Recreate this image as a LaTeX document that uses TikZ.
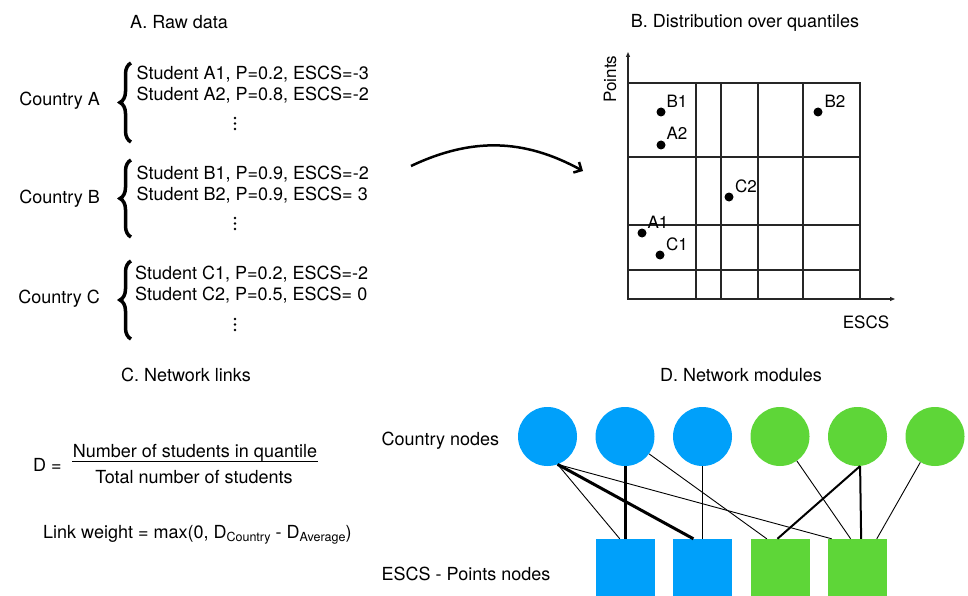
\documentclass[tikz,border=0pt]{standalone}
\usepackage{fontspec}
\setmainfont{TeX Gyre Heros}
\usetikzlibrary{arrows.meta,decorations.pathreplacing}
\definecolor{nblue}{RGB}{0,160,250}
\definecolor{ngreen}{RGB}{94,214,56}
\newcommand{\smallsub}[1]{\raisebox{-3pt}{\fontsize{12.5}{14}\selectfont #1}}
\begin{document}
\begin{tikzpicture}[x=1pt,y=-1pt,
  txt/.style={font=\fontsize{18}{21}\selectfont, inner sep=0pt},
  lbl/.style={font=\fontsize{17}{20}\selectfont, inner sep=0pt},
  dotnode/.style={circle, fill=black, inner sep=0pt, minimum size=9pt},
  vdot/.style={circle, fill=black, inner sep=0pt, minimum size=2.6pt},
  gridline/.style={line width=1.1pt, black!85},
  axisline/.style={line width=1.1pt, black!85, -{Triangle[length=5pt,width=4pt]}},
  bracestyle/.style={decorate, decoration={brace, amplitude=11pt, aspect=0.5}, line width=3.5pt},
  cnodeb/.style={circle, fill=nblue, minimum size=59pt, inner sep=0pt},
  cnodeg/.style={circle, fill=ngreen, minimum size=59pt, inner sep=0pt},
  snodeb/.style={rectangle, fill=nblue, minimum size=59pt, inner sep=0pt},
  snodeg/.style={rectangle, fill=ngreen, minimum size=59pt, inner sep=0pt},
  lnthin/.style={line width=0.9pt},
  lnmid/.style={line width=2pt},
  lnthick/.style={line width=3pt},
]
\useasboundingbox (0,0) rectangle (968,596);

% titles
\node[txt, anchor=base] (ta) at (179,29) {A. Raw data};
\node[txt, anchor=base] (tb) at (745,28) {B. Distribution over quantiles};
\node[txt, anchor=base] (tc) at (186,381) {C. Network links};
\node[txt, anchor=base] (td) at (741,381) {D. Network modules};

% A. raw data
\node[txt, anchor=base east] (ca) at (100,106) {Country A};
\node[txt, anchor=base east] (cb) at (100,203.5) {Country B};
\node[txt, anchor=base east] (cc) at (100,303.5) {Country C};
\draw[bracestyle] (131,142) -- (131,63);
\draw[bracestyle] (131,237) -- (131,160);
\draw[bracestyle] (131,339) -- (131,261);
\node[txt, anchor=base west] (sa1) at (136.5,80) {Student A1, P=0.2, ESCS=-3};
\node[txt, anchor=base west] (sa2) at (136.5,101) {Student A2, P=0.8, ESCS=-2};
\node[txt, anchor=base west] (sb1) at (136.5,179.5) {Student B1, P=0.9, ESCS=-2};
\node[txt, anchor=base west] (sb2) at (136.5,200.5) {Student B2, P=0.9, ESCS= 3};
\node[txt, anchor=base west] (sc1) at (135,279.5) {Student C1, P=0.2, ESCS=-2};
\node[txt, anchor=base west] (sc2) at (135,300.5) {Student C2, P=0.5, ESCS= 0};
\foreach \vy/\nm in {123.5/va, 223.5/vb, 324.5/vc} {
  \node[vdot] (\nm1) at (235,\vy-5.5) {};
  \node[vdot] (\nm2) at (235,\vy) {};
  \node[vdot] (\nm3) at (235,\vy+5.5) {};
}

% arrow A -> B
\coordinate (as) at (411,166);
\coordinate (ae) at (583,171);
\draw[line width=2.5pt, -{Straight Barb[length=6pt,width=12pt]}] (as) to[bend left=27] (ae);

% B. grid
\draw[gridline] (628,83) rectangle (860,299);
\foreach \gx in {696,721,758,803} \draw[gridline] (\gx,83) -- (\gx,299);
\foreach \gy in {157,225,270} \draw[gridline] (628,\gy) -- (860,\gy);
\coordinate (org) at (628,299);
\coordinate (xend) at (895,299);
\coordinate (yend) at (628,52);
\draw[axisline] (org) -- (xend);
\draw[axisline] (org) -- (yend);
\node[lbl, rotate=90] (ylab) at (610,79) {Points};
\node[lbl] (xlab) at (866,322) {ESCS};

\node[dotnode] (pb1) at (661,112) {};
\node[lbl] (lb1) at (677,101) {B1};
\node[dotnode] (pa2) at (661,145) {};
\node[lbl] (la2) at (677,133) {A2};
\node[dotnode] (pb2) at (818,112) {};
\node[lbl] (lb2) at (835,101) {B2};
\node[dotnode] (pc2) at (729,197) {};
\node[lbl] (lc2) at (746,186) {C2};
\node[dotnode] (pa1) at (642,233) {};
\node[lbl] (la1) at (658,222.5) {A1};
\node[dotnode] (pc1) at (660,255) {};
\node[lbl] (lc1) at (677,244) {C1};

% C. network links
\node[txt, anchor=base west] (deq) at (33,471) {D =};
\node[txt, anchor=base] (num) at (195,457) {Number of students in quantile};
\node[txt, anchor=base] (den) at (194,483) {Total number of students};
\coordinate (fl) at (72,461);
\coordinate (fr) at (318,461);
\draw[line width=1pt] (fl) -- (fr);
\node[txt, anchor=base west] (lw) at (43,538) {Link weight = max(0, D\smallsub{Country} - D\smallsub{Average})};

% D. network modules
\node[txt, anchor=base west] (cnl) at (381.5,445) {Country nodes};
\node[txt, anchor=base west] (snl) at (381.5,580) {ESCS - Points nodes};

\node[cnodeb] (c1) at (547.5,436.5) {};
\node[cnodeb] (c2) at (625,436.5) {};
\node[cnodeb] (c3) at (702.5,436.5) {};
\node[cnodeg] (c4) at (780,436.5) {};
\node[cnodeg] (c5) at (857.5,436.5) {};
\node[cnodeg] (c6) at (935,436.5) {};

\node[snodeb] (s1) at (625,568.5) {};
\node[snodeb] (s2) at (702.5,568.5) {};
\node[snodeg] (s3) at (780,568.5) {};
\node[snodeg] (s4) at (857.5,568.5) {};

\draw[lnthin] (c1.290) -- (s1.100);
\draw[lnthick] (c1.290) -- (s2.107);
\draw[lnthin] (c1.290) -- (s4.131);
\draw[lnthick] (c2.south) -- (s1.north);
\draw[lnthin] (c2) -- (s3.114);
\draw[lnthin] (c3.south) -- (s2.north);
\draw[lnthin] (c4) -- (s4.103);
\draw[lnmid] (c5.275) -- (s3.95);
\draw[lnmid] (c5.275) -- (s4.83);
\draw[lnthin] (c6) -- (s4.57);
\end{tikzpicture}
\end{document}
